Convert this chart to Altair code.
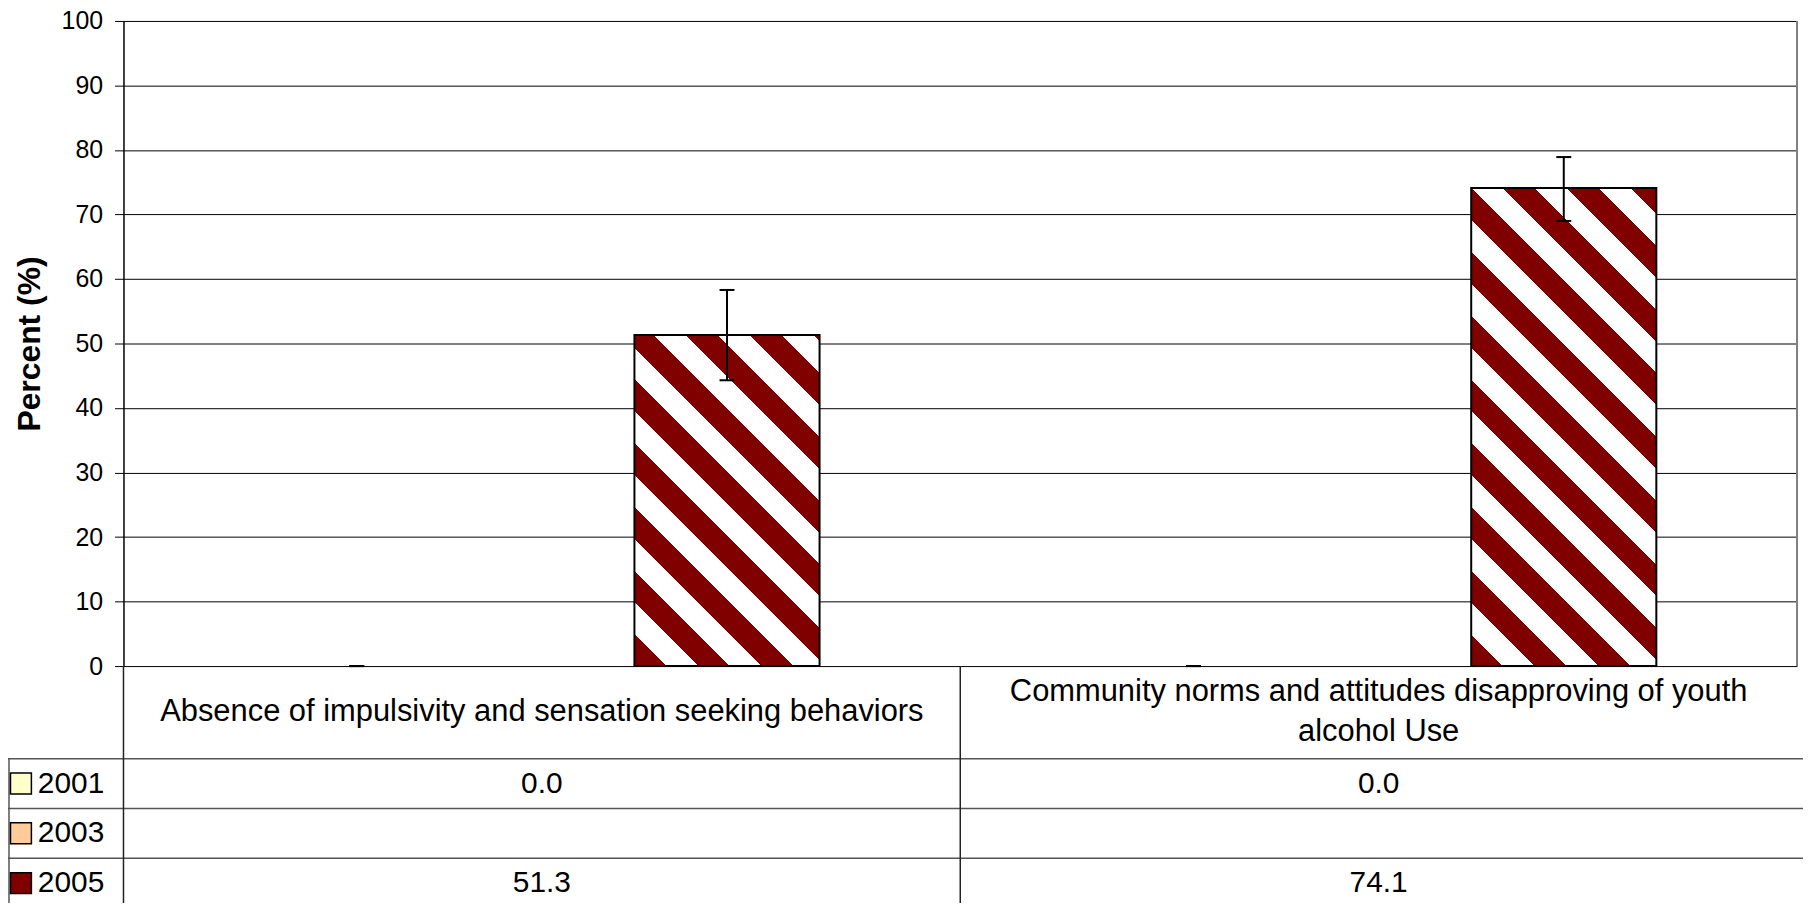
import altair as alt
import pandas as pd

# ---------------- data ----------------
categories = [
    "Absence of impulsivity and sensation seeking behaviors",
    "Community norms and attitudes disapproving of youth alcohol Use",
]
years = ["2001", "2003", "2005"]
values_2001 = [0.0, 0.0]
values_2003 = [None, None]
values_2005 = [51.3, 74.1]
err_low_2001 = [0.0, 0.0]
err_high_2001 = [0.0, 0.0]
err_low_2005 = [44.3, 69.0]
err_high_2005 = [58.3, 78.9]
colors = ["#FFFFCC", "#FFCC99", "#800000"]
y_ticks = [0, 10, 20, 30, 40, 50, 60, 70, 80, 90, 100]

# ---------------- layout ----------------
FONT = "Liberation Sans"
PLOT_W = 1681
BAR_H = 648
TOTAL_H = 886
TABLE_TOP = 741
ROW_H = 50
SUB_PAD = 0.76
BAR_W = PLOT_W / len(categories) / (len(years) + 2 * SUB_PAD)

rows = []
for i, cat in enumerate(categories):
    for yr, vals, lows, highs in [
        ("2001", values_2001, err_low_2001, err_high_2001),
        ("2003", values_2003, [None, None], [None, None]),
        ("2005", values_2005, err_low_2005, err_high_2005),
    ]:
        rows.append(dict(category=cat, year=yr, value=vals[i], low=lows[i], high=highs[i]))
df = pd.DataFrame(rows)
years_df = pd.DataFrame({"year": years})
cat_df = pd.DataFrame({"category": categories})


def stripe_fill(value):
    """Diagonal red/white stripe gradient (bounding-box units)."""
    W = BAR_W
    H = value * BAR_H / 100.0
    k = (W + H) / (W * W + H * H)
    half = 32.0 / (W + H)
    stops = []
    i = 0
    while i * half < 1:
        a = i * half
        b = min((i + 1) * half, 1.0)
        col = "#800000" if i % 2 == 0 else "#FFFFFF"
        stops.append({"offset": a, "color": col})
        stops.append({"offset": b, "color": col})
        i += 1
    return {
        "gradient": "linear",
        "x1": 0, "y1": 1,
        "x2": W * k, "y2": 1 - H * k,
        "stops": stops,
    }


x_scale = alt.Scale(domain=categories, paddingInner=0, paddingOuter=0)
x_axis = alt.Axis(
    orient="bottom", offset=-(TOTAL_H - BAR_H), domain=False, ticks=False, grid=False,
    labelAngle=0, labelFont=FONT, labelFontSize=31, labelColor="#000",
    labelPadding=26, labelLineHeight=40, labelLimit=3000,
    labelBaseline={
        "condition": {"test": "indexof(datum.value, 'youth alcohol') < 0", "value": "line-top"},
        "value": "middle",
    },
    labelOverlap=False, labelFlush=False, title=None,
    labelExpr=(
        "indexof(datum.label, 'youth alcohol') >= 0 ? "
        "split(replace(datum.label, 'youth alcohol', 'youth|alcohol'), '|') : datum.label"
    ),
)
X = alt.X("category:N", scale=x_scale, axis=x_axis, sort=categories)
XO = alt.XOffset("year:N", scale=alt.Scale(domain=years, paddingInner=0, paddingOuter=SUB_PAD))

Y_SCALE = alt.Scale(domain=[0, 100], range=[BAR_H, 0], nice=False, zero=True)
y_axis = alt.Axis(
    values=y_ticks, format="d", grid=True, gridColor="#000", gridWidth=1,
    domainColor="#000", domainWidth=1.5, tickColor="#000", tickSize=9, tickWidth=1,
    labelFont=FONT, labelFontSize=25, labelColor="#000", labelPadding=12,
    title="Percent (%)", titleFont=FONT, titleFontSize=32, titleFontWeight="bold",
    titleColor="#000", titleAngle=270, titleX=-94, titleY=BAR_H / 2,
    titleAlign="center", titleBaseline="middle",
)
color_scale = alt.Scale(domain=years, range=colors)

base = alt.Chart(df)

bars_2001 = base.transform_filter("datum.year == '2001'").mark_bar(strokeWidth=0).encode(
    x=X, xOffset=XO,
    y=alt.Y("value:Q", scale=Y_SCALE, axis=y_axis),
    fill=alt.Fill("year:N", scale=color_scale, legend=None),
)

bar_layers = [bars_2001]
for i, cat in enumerate(categories):
    bar_layers.append(
        base.transform_filter(
            alt.FieldEqualPredicate(field="category", equal=cat)
        ).transform_filter("datum.year == '2005'").mark_bar(
            fill=stripe_fill(values_2005[i]), stroke="#000", strokeWidth=2
        ).encode(
            x=X, xOffset=XO,
            y=alt.Y("value:Q", scale=Y_SCALE, axis=y_axis),
        )
    )

err = base.transform_filter("isValid(datum.low)")
err_rule = err.mark_rule(color="#000", strokeWidth=2).encode(
    x=X, xOffset=XO,
    y=alt.Y("low:Q", scale=Y_SCALE, axis=y_axis), y2="high:Q",
)
cap_low = err.mark_tick(color="#000", thickness=2, size=15, opacity=1).encode(
    x=X, xOffset=XO, y=alt.Y("low:Q", scale=Y_SCALE, axis=y_axis),
)
cap_high = err.mark_tick(color="#000", thickness=2, size=15, opacity=1).encode(
    x=X, xOffset=XO, y=alt.Y("high:Q", scale=Y_SCALE, axis=y_axis),
)
right_border = alt.Chart(cat_df).transform_filter(
    alt.FieldEqualPredicate(field="category", equal=categories[0])
).mark_rule(color="#808080", strokeWidth=2).encode(
    x=alt.value(PLOT_W), y=alt.value(0), y2=alt.value(BAR_H)
)

bar_group = alt.layer(*bar_layers, err_rule, cap_low, cap_high, right_border)

# ---------------- data table ----------------
TY_SCALE = alt.Scale(domain=years, range=[TABLE_TOP, TABLE_TOP + ROW_H * len(years)],
                     paddingInner=0, paddingOuter=0)
TY = alt.Y("year:N", scale=TY_SCALE, axis=None)

row_lines = alt.Chart(years_df).mark_rule(color="#555", strokeWidth=1.5).encode(
    x=alt.value(-116), x2=alt.value(PLOT_W + 6),
    y=alt.Y("year:N", scale=TY_SCALE, axis=None, bandPosition=0),
)
legend_border = alt.Chart(years_df).transform_filter("datum.year == '2001'").mark_rule(
    color="#555", strokeWidth=1.5
).encode(x=alt.value(-115), y=alt.value(TABLE_TOP), y2=alt.value(TOTAL_H))

cat_dividers = alt.Chart(cat_df).mark_rule(color="#222", strokeWidth=1.5).encode(
    x=alt.X("category:N", scale=x_scale, axis=x_axis, sort=categories, bandPosition=0),
    y=alt.value(BAR_H), y2=alt.value(TOTAL_H),
)

value_text = base.transform_filter("isValid(datum.value)").mark_text(
    font=FONT, fontSize=30, color="#000", align="center", baseline="middle"
).encode(x=X, y=TY, text=alt.Text("value:Q", format=".1f"))

legend_sq = alt.Chart(years_df).mark_point(
    shape="square", size=441, filled=True, stroke="#000", strokeWidth=1.5, opacity=1
).encode(
    x=alt.value(-103), y=TY,
    fill=alt.Fill("year:N", scale=color_scale, legend=None),
)
legend_txt = alt.Chart(years_df).mark_text(
    font=FONT, fontSize=30, color="#000", align="left", baseline="middle"
).encode(x=alt.value(-86), y=TY, text="year:N")

table_group = alt.layer(row_lines, legend_border, cat_dividers, value_text, legend_sq, legend_txt)

chart = alt.layer(bar_group, table_group).resolve_scale(y="independent").properties(
    width=PLOT_W, height=TOTAL_H,
    autosize=alt.AutoSizeParams(type="none"),
    padding={"left": 116, "top": 11, "right": 6, "bottom": 0},
    background="white",
).configure_view(stroke=None)

chart.save("out.html", embed_options={"renderer": "svg", "actions": False})
